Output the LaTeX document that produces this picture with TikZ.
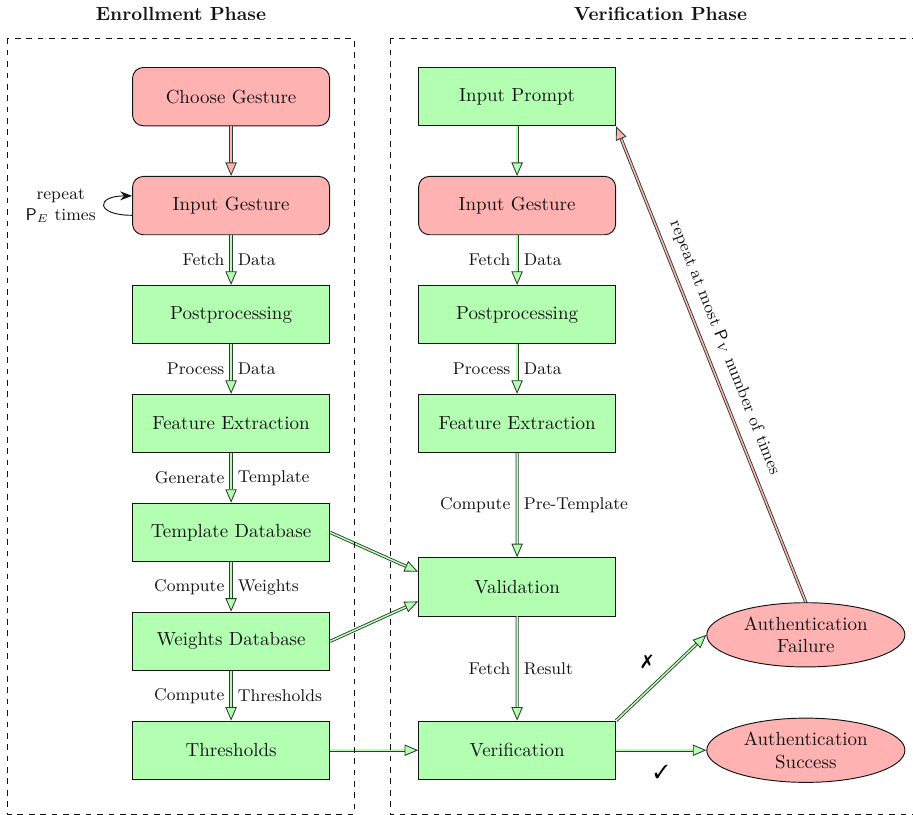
\documentclass[tikz,border=0pt]{standalone}
\usepackage{amsmath,amssymb}
\usepackage{pifont}
\usepackage{xcolor}
\usepackage{tikz}
\usetikzlibrary{positioning,arrows.meta,calc,shapes.geometric}
\definecolor{ink}{RGB}{20,20,20}
\definecolor{edgeink}{RGB}{45,60,45}
\definecolor{nodegreen}{RGB}{178,255,178}
\definecolor{nodepink}{RGB}{255,178,178}
\tikzset{
  gbox/.style={draw=ink, fill=nodegreen, minimum width=3.65cm, minimum height=1.08cm,
    align=center, inner sep=2pt, text=ink, line width=0.5pt},
  rbox/.style={gbox, fill=nodepink, rounded corners=2mm},
  oval/.style={ellipse, draw=ink, fill=nodepink, minimum width=3.67cm, minimum height=1.19cm,
    align=center, inner sep=0pt, text=ink, line width=0.5pt},
  flow/.style={draw=edgeink, double=nodegreen, double distance=0.8pt, line width=0.45pt,
    -{Triangle[length=2.5mm, width=2.1mm, fill=nodegreen, line width=0.45pt]}},
  flowp/.style={draw=edgeink, double=nodepink, double distance=0.8pt, line width=0.45pt,
    -{Triangle[length=2.5mm, width=2.1mm, fill=nodepink, line width=0.45pt]}},
  lbl/.style={font=\small, text=ink},
  frame/.style={draw=ink, dashed, line width=0.5pt},
  phase/.style={font=\bfseries, text=ink},
}

\begin{document}
\begin{tikzpicture}[node distance=0.92cm]
  \useasboundingbox (0,0) rectangle (16.91,-15.09);
  % enrollment column
  \node[rbox] (choose) at (4.28,-1.79) {Choose Gesture};
  \node[rbox, below=of choose] (igE) {Input Gesture};
  \node[gbox, below=of igE] (postE) {Postprocessing};
  \node[gbox, below=of postE] (featE) {Feature Extraction};
  \node[gbox, below=of featE] (tdb) {Template Database};
  \node[gbox, below=of tdb] (wdb) {Weights Database};
  \node[gbox, below=of wdb] (thr) {Thresholds};
  % verification column
  \coordinate (dbmid) at ($(tdb.east)!0.5!(wdb.east)$);
  \node[gbox, right=1.63cm of choose] (prompt) {Input Prompt};
  \node[rbox, right=1.63cm of igE] (igV) {Input Gesture};
  \node[gbox, right=1.63cm of postE] (postV) {Postprocessing};
  \node[gbox, right=1.63cm of featE] (featV) {Feature Extraction};
  \node[gbox, right=1.63cm of dbmid] (val) {Validation};
  \node[gbox, right=1.63cm of thr] (ver) {Verification};
  \node[oval, right=1.67cm of ver] (succ) {Authentication\\Success};
  \node[oval, above=0.93cm of succ] (fail) {Authentication\\Failure};

  % enrollment flow
  \draw[flowp] (choose) -- (igE);
  \draw[flow] (igE) -- node[lbl, left]{Fetch} node[lbl, right]{Data} (postE);
  \draw[flow] (postE) -- node[lbl, left]{Process} node[lbl, right]{Data} (featE);
  \draw[flow] (featE) -- node[lbl, left]{Generate} node[lbl, right]{Template} (tdb);
  \draw[flow] (tdb) -- node[lbl, left]{Compute} node[lbl, right]{Weights} (wdb);
  \draw[flow] (wdb) -- node[lbl, left]{Compute} node[lbl, right]{Thresholds} (thr);
  \draw[-{Stealth[length=2.2mm]}, ink, line width=0.5pt] ([yshift=-0.18cm]igE.west) .. controls +(-0.68,0) and +(-0.68,0) .. ([yshift=0.18cm]igE.west);
  \node[lbl, align=center, left=0.55cm of igE.west] (rep) {repeat\\$\mathsf{P}_E$ times};

  % verification flow
  \draw[flow] (prompt) -- (igV);
  \draw[flow] (igV) -- node[lbl, left]{Fetch} node[lbl, right]{Data} (postV);
  \draw[flow] (postV) -- node[lbl, left]{Process} node[lbl, right]{Data} (featV);
  \draw[flow] (featV) -- node[lbl, left]{Compute} node[lbl, right]{Pre-Template} (val);
  \draw[flow] (val) -- node[lbl, left]{Fetch} node[lbl, right]{Result} (ver);
  \draw[flow] (tdb.east) -- ([yshift=0.28cm]val.west);
  \draw[flow] (wdb.east) -- ([yshift=-0.27cm]val.west);
  \draw[flow] (thr) -- (ver);
  \draw[flow] (ver.north east) -- node[above left=0.5mm]{\ding{55}} (fail.west);
  \draw[flow] (ver) -- node[below=1.5mm]{\ding{51}} (succ);
  \draw[flowp] (fail.north) -- node[lbl, sloped, above=0.8mm, pos=0.52]{repeat at most $\mathsf{P}_V$ number of times} (prompt.south east);

  % phase frames
  \draw[frame] ($(choose.north west)+(-2.30,0.53)$) coordinate (e1) rectangle ($(thr.south east)+(0.444,-0.64)$) coordinate (e2);
  \draw[frame] ($(prompt.north west)+(-0.52,0.53)$) coordinate (v1) rectangle ($(ver.south east)+(5.83,-0.64)$) coordinate (v2);
  \node[phase] at ($(e1)!0.5!(e2 |- e1)+(0,0.46)$) {Enrollment Phase};
  \node[phase] at ($(v1)!0.5!(v2 |- v1)+(0,0.46)$) {Verification Phase};
\end{tikzpicture}
\end{document}
